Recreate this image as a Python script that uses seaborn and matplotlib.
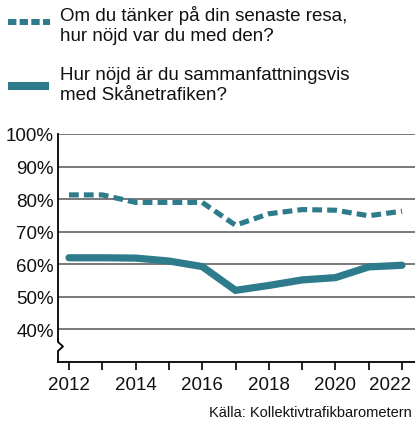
import matplotlib
matplotlib.use("Agg")
import matplotlib.pyplot as plt
from matplotlib.lines import Line2D
import matplotlib.transforms as mtransforms
import seaborn as sns
import pandas as pd

years = [2012, 2013, 2014, 2015, 2016, 2017, 2018, 2019, 2020, 2021, 2022]
senaste_resa = [81.3, 81.3, 79.0, 79.0, 79.0, 72.0, 75.5, 76.8, 76.6, 74.9, 76.3]
sammanfattning = [62.0, 62.0, 61.9, 61.0, 59.3, 52.0, 53.5, 55.2, 55.9, 59.2, 59.7]
label_a = "Om du tänker på din senaste resa,\nhur nöjd var du med den?"
label_b = "Hur nöjd är du sammanfattningsvis\nmed Skånetrafiken?"
ytick_vals = [40, 50, 60, 70, 80, 90, 100]
xtick_labels = [2012, 2014, 2016, 2018, 2020, 2022]
source = "Källa: Kollektivtrafikbarometern"

sns.set_style("white")
plt.rcParams["font.family"] = ["Liberation Sans Narrow", "Liberation Sans", "DejaVu Sans"]

color = "#2e7b8c"
df = pd.DataFrame({
    "year": years * 2,
    "value": senaste_resa + sammanfattning,
    "series": [label_a] * len(years) + [label_b] * len(years),
})

fig = plt.figure(figsize=(4.15, 4.27), dpi=100)
ax = fig.add_axes([58 / 415, 1 - 363 / 427, 1 - 58 / 415, (363 - 135) / 427])

for v in ytick_vals:
    ax.axhline(v, color="#555555", lw=1.1, zorder=1)

sns.lineplot(data=df[df.series == label_b], x="year", y="value", ax=ax,
             color=color, lw=5.2, solid_joinstyle="miter", legend=False, zorder=3)
sns.lineplot(data=df[df.series == label_a], x="year", y="value", ax=ax,
             color=color, lw=3.7, legend=False, zorder=3)
ax.lines[-1].set_dashes([1.9, 1.0])
ax.lines[-1].set_dash_capstyle("butt")

ax.set_xlim(2011.67, 2022.39)
ax.set_ylim(30, 100)
ax.set_yticks(ytick_vals)
ax.set_yticklabels([f"{v}%" for v in ytick_vals])
ax.set_xticks(years, minor=False)
ax.set_xticklabels([str(y) if y in xtick_labels else "" for y in years])
ax.tick_params(axis="x", direction="out", length=6, width=1.2, color="black",
               labelsize=13.5, pad=4, bottom=True)
ax.tick_params(axis="y", length=0, labelsize=13.5, pad=3)
ax.set_xlabel("")
ax.set_ylabel("")
for s in ["top", "right"]:
    ax.spines[s].set_visible(False)
for s in ["left", "bottom"]:
    ax.spines[s].set_color("black")
    ax.spines[s].set_linewidth(1.3)
for lab in ax.get_xticklabels() + ax.get_yticklabels():
    lab.set_color("#111111")
# shift the last year label left so it fits inside the figure
last = ax.get_xticklabels()[-1]
last.set_transform(last.get_transform() +
                   mtransforms.ScaledTranslation(-12 / 100, 0, fig.dpi_scale_trans))

# axis break mark on the left spine
bx = 58 / 415
fig.patches.append(plt.Rectangle((bx - 0.004, 1 - 354 / 427), 0.008, 12 / 427,
                                 transform=fig.transFigure, color="white", zorder=5))
fig.lines.append(Line2D([bx, bx, bx + 0.012, bx, bx],
                        [1 - 340 / 427, 1 - 343 / 427, 1 - 347.5 / 427, 1 - 352 / 427, 1 - 355 / 427],
                        transform=fig.transFigure, color="black", lw=1.3, zorder=6))

# legend
fig.lines.append(Line2D([8 / 415, 50 / 415], [1 - 23 / 427] * 2, transform=fig.transFigure,
                        color=color, lw=4.3, dashes=[1.4, 0.55], dash_capstyle="butt"))
fig.lines.append(Line2D([8 / 415, 49 / 415], [1 - 87 / 427] * 2, transform=fig.transFigure,
                        color=color, lw=5.8, solid_capstyle="butt"))
fig.text(60 / 415, 1 - 6 / 427, label_a, ha="left", va="top", fontsize=13.5,
         color="#111111", linespacing=1.2)
fig.text(60 / 415, 1 - 67 / 427, label_b, ha="left", va="top", fontsize=13.5,
         color="#111111", linespacing=1.2)
fig.text(412 / 415, 1 - 413 / 427, source, ha="right", va="center", fontsize=10.5,
         color="#111111")

fig.savefig("out.png", dpi=100)
